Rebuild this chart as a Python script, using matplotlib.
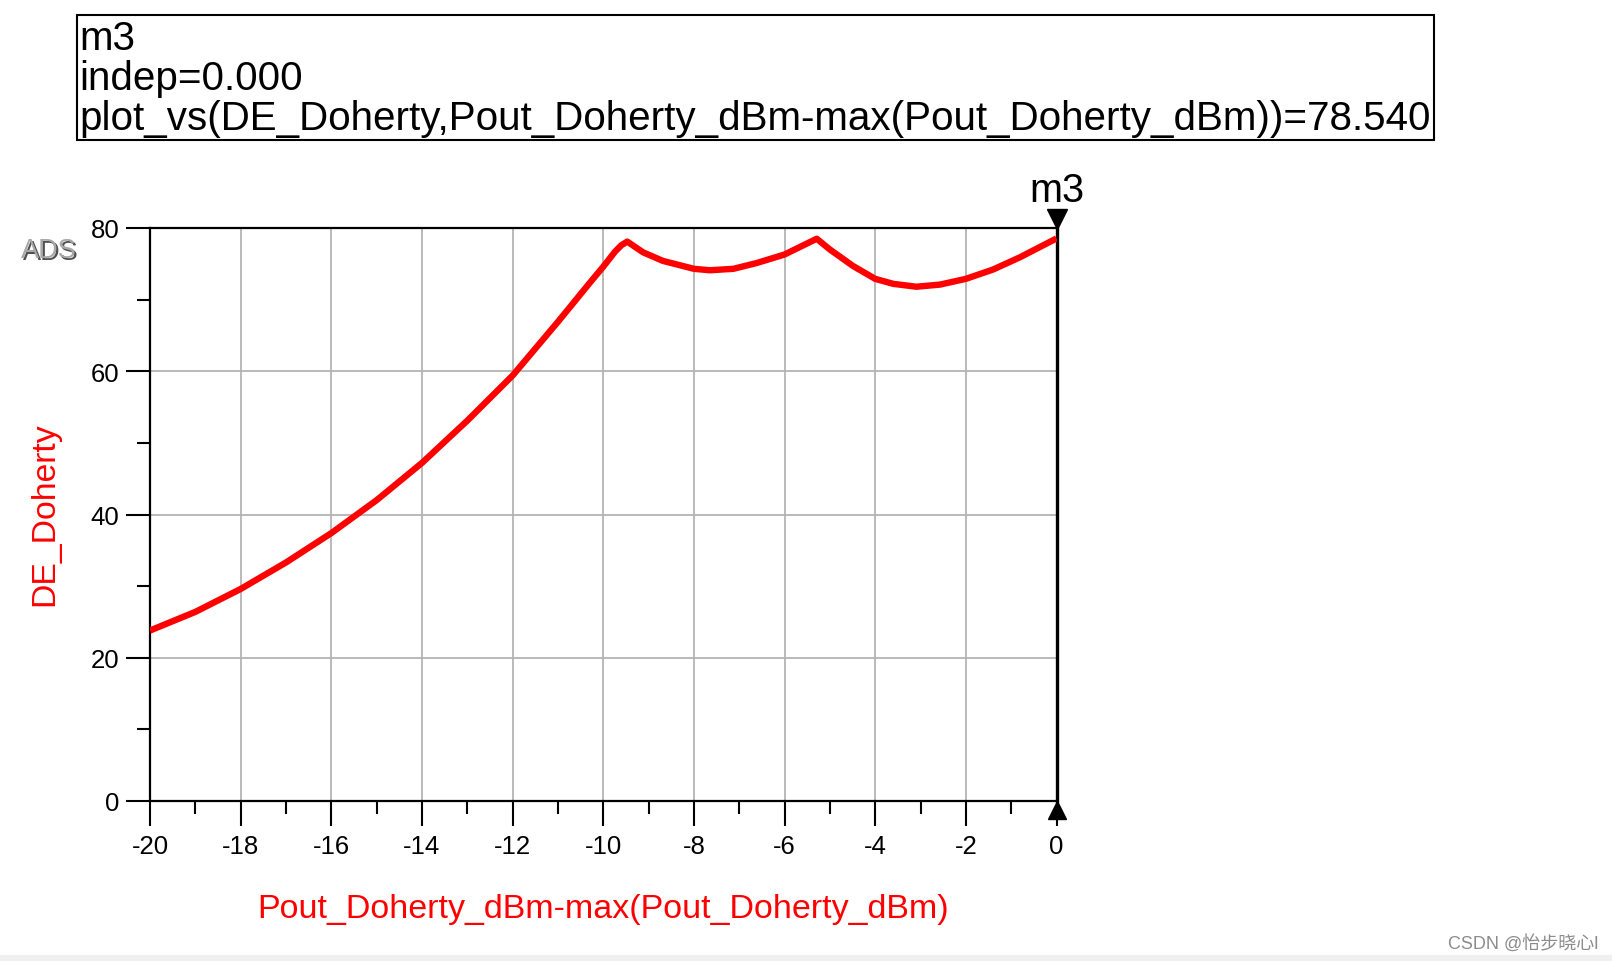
import matplotlib
matplotlib.use('Agg')
import matplotlib.pyplot as plt
from matplotlib.patches import Rectangle
from matplotlib.ticker import MultipleLocator
from matplotlib.transforms import offset_copy

plt.rcParams['font.family'] = ['Liberation Sans', 'Noto Sans CJK SC', 'DejaVu Sans']
plt.rcParams['axes.unicode_minus'] = False  # ADS prints plain hyphens

# Curve: DE_Doherty vs normalized output power
pout_norm = [-20, -19, -18, -17, -16, -15, -14, -13, -12, -11, -10.29,
             -10, -9.74, -9.6, -9.47, -9.12, -8.68, -8.0, -7.65, -7.13, -6.62, -6.0,
             -5.29, -5.0, -4.49, -4.0, -3.6, -3.09, -2.57, -2.0, -1.4, -0.81, 0]
de_doherty = [23.8, 26.4, 29.6, 33.3, 37.4, 42.0, 47.2, 53.1, 59.4, 66.9, 72.4,
              74.6, 76.7, 77.6, 78.1, 76.6, 75.4, 74.3, 74.1, 74.3, 75.1, 76.3,
              78.5, 77.0, 74.7, 72.9, 72.2, 71.8, 72.1, 72.9, 74.2, 75.9, 78.54]

marker_name = 'm3'
marker_x = 0.0
marker_y = 78.540
x_ticks = [-20, -18, -16, -14, -12, -10, -8, -6, -4, -2, 0]
y_ticks = [0, 20, 40, 60, 80]

W, H = 1612, 962
fig = plt.figure(figsize=(W / 100, H / 100), dpi=100)
fig.patch.set_facecolor('white')

# plot area (pixel positions)
ax = fig.add_axes([150 / W, 1 - 802 / H, (1056.5 - 150) / W, (802 - 229) / H])
ax.plot(pout_norm, de_doherty, color='#ff0000', lw=4.6, solid_joinstyle='round',
        solid_capstyle='butt', zorder=3)
ax.set_xlim(-20, 0)
ax.set_ylim(0, 80)
ax.set_xticks(x_ticks)
ax.set_yticks(y_ticks)
ax.xaxis.set_minor_locator(MultipleLocator(1))
ax.yaxis.set_minor_locator(MultipleLocator(10))
ax.grid(True, which='major', color='#b4b4b4', lw=1.3, zorder=1)
ax.tick_params(axis='x', which='major', length=18, width=1.5, pad=6, labelsize=18.5)
ax.tick_params(axis='x', which='minor', length=9.4, width=1.5)
ax.tick_params(axis='y', which='major', length=17.5, width=1.5, pad=4.5, labelsize=18.5)
ax.tick_params(axis='y', which='minor', length=9.4, width=1.5)
for side in ['top', 'left', 'bottom']:
    ax.spines[side].set_linewidth(1.6)
ax.spines['right'].set_linewidth(2.4)

# marker m3 triangles on top and bottom of the plot
up = offset_copy(ax.transData, fig=fig, x=0, y=6.8, units='points')
down = offset_copy(ax.transData, fig=fig, x=0, y=-6.3, units='points')
ax.plot([marker_x], [80], marker='v', color='black', markersize=14, transform=up, clip_on=False)
ax.plot([marker_x], [0], marker='^', color='black', markersize=13, transform=down, clip_on=False)
ax.annotate(marker_name, xy=(marker_x, 80), xytext=(0, 27.5), textcoords='offset points',
            ha='center', va='center', fontsize=28.5)

# axis labels
fig.text(45 / W, 1 - 514 / H, 'DE_Doherty', rotation=90, color='#ff0000', fontsize=24.3,
         ha='center', va='center')
fig.text(603 / W, 1 - 910 / H, 'Pout_Doherty_dBm-max(Pout_Doherty_dBm)', color='#ff0000',
         fontsize=24.5, ha='center', va='center')

# marker readout box
fig.patches.append(Rectangle((76.5 / W, 1 - 140.7 / H), (1434 - 76.5) / W, 125 / H,
                             transform=fig.transFigure, fill=False, ec='black', lw=1.5))
box_lines = [marker_name, 'indep=%.3f' % marker_x,
             'plot_vs(DE_Doherty,Pout_Doherty_dBm-max(Pout_Doherty_dBm))=%.3f' % marker_y]
for i, line in enumerate(box_lines):
    fig.text(79 / W, 1 - (50 + 40 * i) / H, line, fontsize=29.1, ha='left', va='baseline')

# ADS logo
fig.text(50.5 / W, 1 - 252.5 / H, 'ADS', fontsize=19.5, color='#505050', ha='center', va='center')
fig.text(49.3 / W, 1 - 251.3 / H, 'ADS', fontsize=19.5, color='#a8a8a8', ha='center', va='center')

# watermark and bottom strip
fig.patches.append(Rectangle((0, 0), 1, 6 / H, transform=fig.transFigure,
                             color='#f0f0f0', lw=0))
fig.text(1598 / W, 1 - 944 / H, 'CSDN @怡步晓心l', fontsize=13, color='#8c8c8c',
         ha='right', va='center')

fig.savefig('out.png', dpi=100)
